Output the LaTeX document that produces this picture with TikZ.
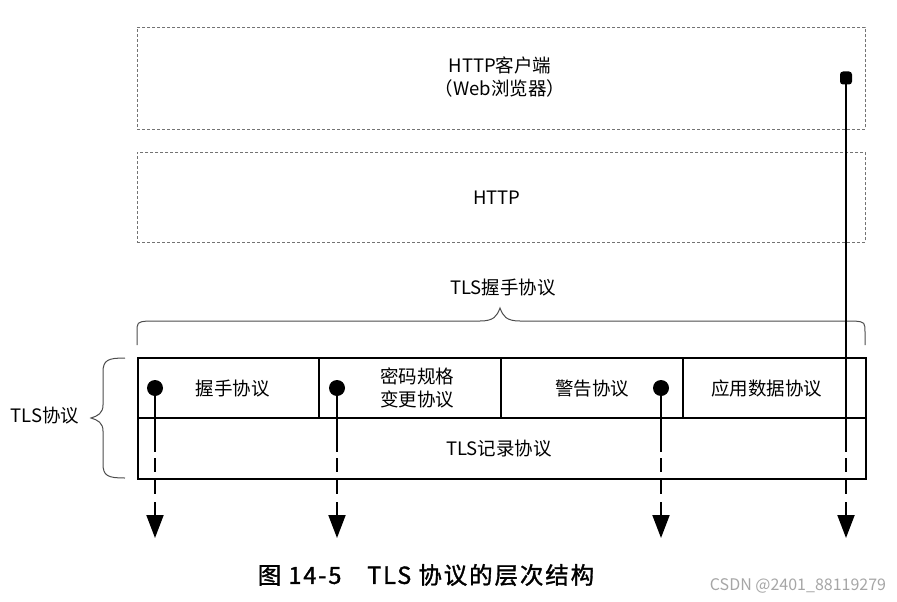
\documentclass[tikz,border=0pt]{standalone}
\usepackage{fontspec}
\setmainfont{Noto Sans CJK SC}
\newfontfamily\capfont[FakeBold=1.3,LetterSpace=8]{Noto Sans CJK SC}
\usetikzlibrary{arrows.meta}
\begin{document}
\begin{tikzpicture}[x=1pt,y=-1pt,
  lbl/.style={font=\fontsize{18.5}{23}\selectfont, align=center, inner sep=0pt},
  dbox/.style={draw=black!55, dash pattern=on 3pt off 2pt, line width=0.9pt, anchor=north west, inner sep=0pt},
  cell/.style={draw, line width=2.2pt, anchor=north west, inner sep=0pt, font=\fontsize{18.5}{23}\selectfont, align=center},
  dotnode/.style={circle, fill, minimum size=16pt, inner sep=0pt},
  sqnode/.style={fill, rounded corners=3pt, minimum width=12pt, minimum height=13pt, inner sep=0pt},
  solidline/.style={line width=2pt},
  dashline/.style={line width=2pt, dash pattern=on 14pt off 8pt, -{Triangle[width=17pt,length=23pt]}},
  bracestyle/.style={draw=black!70, line width=1pt}
]
\useasboundingbox (0,0) rectangle (897,602);

% dashed upper boxes
\node[dbox, minimum width=728pt, minimum height=102pt] (client) at (137,27) {};
\node[lbl] (clienttxt) at (500,77) {HTTP客户端\\（Web浏览器）};
\node[dbox, minimum width=728pt, minimum height=90pt] (http) at (137,152) {};
\node[lbl] (httptxt) at (497,198) {HTTP};

% top brace
\node[lbl] (hslabel) at (503,288) {TLS握手协议};
\draw[bracestyle] (137,345) -- (137,333) .. controls (137,322) .. (148,321) -- (480,321)
  .. controls (494,321) and (497,316) .. (500,308)
  .. controls (503,316) and (506,321) .. (520,321) -- (854,321)
  .. controls (865,322) .. (865,333) -- (865,345);

% table cells
\node[cell, minimum width=181pt, minimum height=60pt] (hs) at (137,357) {\hspace*{8pt}握手协议};
\node[cell, minimum width=182pt, minimum height=60pt] (ccs) at (318,357) {\hspace*{14pt}密码规格\\\hspace*{14pt}变更协议};
\node[cell, minimum width=182pt, minimum height=60pt] (alert) at (500,357) {警告协议};
\node[cell, minimum width=183pt, minimum height=60pt] (app) at (682,357) {\hspace*{-16pt}应用数据协议};
\node[cell, minimum width=728pt, minimum height=61pt] (rec) at (137,417) {\hspace*{-6pt}TLS记录协议};

% left brace
\node[lbl] (tlslabel) at (45,416) {TLS协议};
\draw[bracestyle] (125,358) .. controls (108,358) and (103,360) .. (103,372) -- (103,405)
  .. controls (103,413) and (98,416) .. (91,418)
  .. controls (98,420) and (103,423) .. (103,431) -- (103,464)
  .. controls (103,476) and (108,478) .. (125,478);

% arrows
\node[dotnode] (d1) at (155,388) {};
\node[dotnode] (d2) at (337,388) {};
\node[dotnode] (d3) at (661,388) {};
\node[sqnode] (d4) at (846,78) {};
\foreach \i/\x in {1/155,2/337,3/661,4/846} {
  \coordinate (m\i) at (\x,452);
  \coordinate (e\i) at (\x,538);
  \draw[solidline] (d\i.center) -- (m\i);
  \draw[dashline] ([yshift=-6pt]m\i) -- (e\i);
}

% caption
\node[font=\fontsize{23.5}{26}\capfont, inner sep=0pt] (caption) at (426,575) {图 14-5\hspace{1.1em}TLS 协议的层次结构};
\node[font=\fontsize{16}{18}\selectfont, text=black!35, inner sep=0pt] (wm) at (798,586) {CSDN @2401\_88119279};
\end{tikzpicture}
\end{document}
